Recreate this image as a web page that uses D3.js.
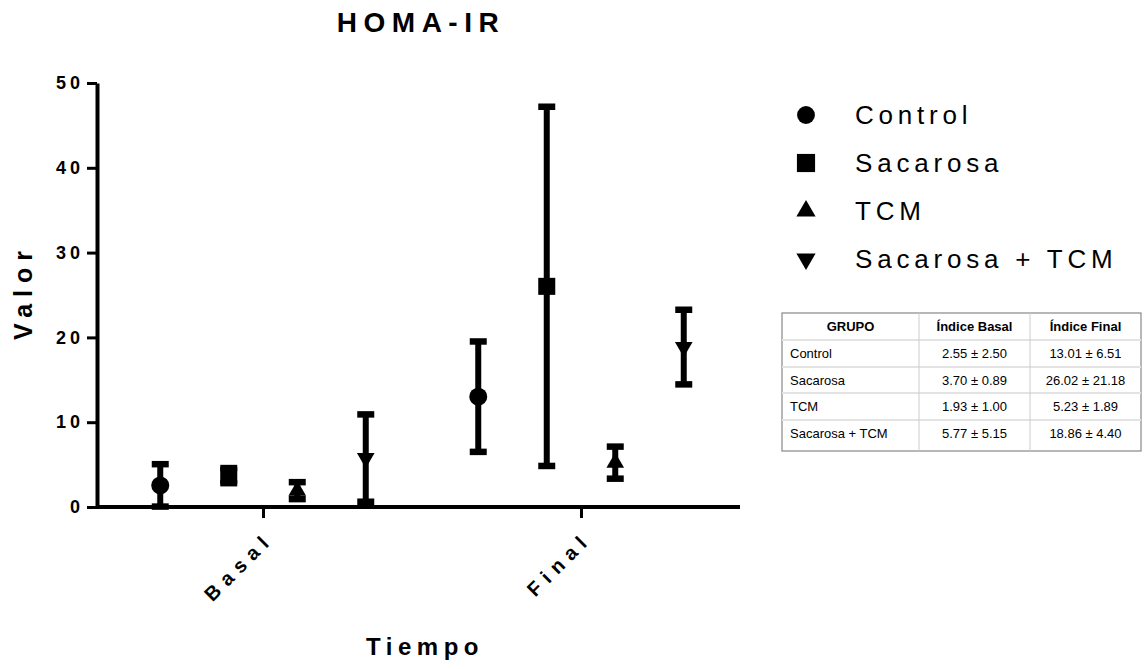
<!DOCTYPE html>
<html>
<head>
<meta charset="utf-8">
<script src="https://cdn.jsdelivr.net/npm/d3@7"></script>
<style>
  body { margin: 0; background: #fff; }
  svg { font-family: 'Liberation Sans', Arial, sans-serif; }
</style>
</head>
<body>
<div id="chart"></div>
<script>
const tiempos = ["Basal", "Final"];
const grupos = ["Control", "Sacarosa", "TCM", "Sacarosa + TCM"];
const mediaBasal = [2.55, 3.70, 1.93, 5.77];
const deBasal = [2.50, 0.89, 1.00, 5.15];
const mediaFinal = [13.01, 26.02, 5.23, 18.86];
const deFinal = [6.51, 21.18, 1.89, 4.40];
const yTickValues = [0, 10, 20, 30, 40, 50];
const tablaHeader = ["GRUPO", "Índice Basal", "Índice Final"];

const width = 1145, height = 669;
const margin = { top: 83, right: 405, bottom: 162, left: 97 };

const svg = d3.select("#chart").append("svg")
    .attr("width", width)
    .attr("height", height);

const rows = [];
grupos.forEach((g, i) => {
    rows.push({ tiempo: "Basal", grupo: g, idx: i, m: mediaBasal[i], sd: deBasal[i] });
    rows.push({ tiempo: "Final", grupo: g, idx: i, m: mediaFinal[i], sd: deFinal[i] });
});

const x = d3.scalePoint()
    .domain(tiempos)
    .range([margin.left + 7, width - margin.right])
    .padding(0.5);

const y = d3.scaleLinear()
    .domain([0, 50])
    .range([height - margin.bottom, margin.top]);

const dodge = 68.5;
const px = d => x(d.tiempo) + (d.idx - 1.5) * dodge;

// axes
const xAxis = g => g
    .attr("transform", `translate(0,${y(0)})`)
    .call(d3.axisBottom(x).tickSize(11).tickSizeOuter(0).tickFormat(""))
    .call(g => g.select(".domain").remove())
    .call(g => g.selectAll(".tick line").attr("stroke-width", 3))
    .call(g => g.append("line")
        .attr("x1", margin.left).attr("x2", width - margin.right)
        .attr("stroke", "#000").attr("stroke-width", 4));

const yAxis = g => g
    .attr("transform", `translate(${margin.left},0)`)
    .call(d3.axisLeft(y).tickValues(yTickValues).tickSize(10).tickSizeOuter(0).tickPadding(3))
    .call(g => g.select(".domain").attr("stroke-width", 4))
    .call(g => g.selectAll(".tick line").attr("stroke-width", 3))
    .call(g => g.selectAll(".tick text")
        .attr("font-size", 18)
        .attr("font-weight", "bold")
        .attr("letter-spacing", 4)
        .attr("font-family", "'Liberation Sans', Arial, sans-serif")
        .attr("fill", "#000"));

svg.append("g").call(xAxis);
svg.append("g").call(yAxis);

// rotated x labels
svg.append("g").selectAll("text")
    .data(tiempos)
    .join("text")
    .attr("transform", d => `translate(${x(d) + 12},${y(0) + 33}) rotate(-45)`)
    .attr("text-anchor", "end")
    .attr("font-size", 20)
    .attr("font-weight", "bold")
    .attr("letter-spacing", 7)
    .text(d => d);

// error bars
const capW = 8.5;
const eb = svg.append("g").selectAll("g")
    .data(rows)
    .join("g")
    .attr("stroke", "#000")
    .attr("stroke-width", 6);

eb.append("line")
    .attr("x1", px).attr("x2", px)
    .attr("y1", d => y(d.m - d.sd)).attr("y2", d => y(d.m + d.sd));
eb.append("line")
    .attr("x1", d => px(d) - capW).attr("x2", d => px(d) + capW)
    .attr("y1", d => y(d.m - d.sd)).attr("y2", d => y(d.m - d.sd))
    .attr("stroke-width", 6.5);
eb.append("line")
    .attr("x1", d => px(d) - capW).attr("x2", d => px(d) + capW)
    .attr("y1", d => y(d.m + d.sd)).attr("y2", d => y(d.m + d.sd))
    .attr("stroke-width", 6.5);

// markers
const symbolTypes = [d3.symbolCircle, d3.symbolSquare, d3.symbolTriangle, d3.symbolTriangle];
const symbolSizes = [254, 290, 135, 135];
const legendSizes = [250, 330, 160, 160];
const symbolRot = [0, 0, 0, 180];

svg.append("g").selectAll("path")
    .data(rows)
    .join("path")
    .attr("d", d => d3.symbol().type(symbolTypes[d.idx]).size(symbolSizes[d.idx])())
    .attr("transform", d => `translate(${px(d)},${y(d.m)}) rotate(${symbolRot[d.idx]})`)
    .attr("fill", "#000");

// titles
svg.append("text")
    .attr("x", 421).attr("y", 32)
    .attr("text-anchor", "middle")
    .attr("font-size", 28)
    .attr("font-weight", "bold")
    .attr("letter-spacing", 6.5)
    .text("HOMA-IR");

svg.append("text")
    .attr("transform", `translate(32,${(y(0) + y(50)) / 2 - 3}) rotate(-90)`)
    .attr("text-anchor", "middle")
    .attr("font-size", 25)
    .attr("font-weight", "bold")
    .attr("letter-spacing", 7)
    .text("Valor");

svg.append("text")
    .attr("x", 425).attr("y", 655)
    .attr("text-anchor", "middle")
    .attr("font-size", 24)
    .attr("font-weight", "bold")
    .attr("letter-spacing", 5.5)
    .text("Tiempo");

// legend
const legend = svg.append("g").selectAll("g")
    .data(grupos)
    .join("g")
    .attr("transform", (d, i) => `translate(806,${115 + i * 48})`);

legend.append("path")
    .attr("d", (d, i) => d3.symbol().type(symbolTypes[i]).size(legendSizes[i])())
    .attr("transform", (d, i) => `rotate(${symbolRot[i]})`)
    .attr("fill", "#000");

legend.append("text")
    .attr("x", 49).attr("dy", "0.36em")
    .attr("font-size", 26)
    .attr("letter-spacing", 4.8)
    .text(d => d);

// table
const fmt = d3.format(".2f");
const colX = [782, 919, 1030, 1141];
const rowY = [313, 340, 367, 393, 420, 451];
const tabla = svg.append("g").attr("font-size", 13);

tabla.append("rect")
    .attr("x", colX[0]).attr("y", rowY[0])
    .attr("width", colX[3] - colX[0]).attr("height", rowY[5] - rowY[0])
    .attr("fill", "#fff").attr("stroke", "#888").attr("stroke-width", 1.2);

tabla.selectAll("line.h")
    .data(rowY.slice(1, 5))
    .join("line")
    .attr("x1", colX[0]).attr("x2", colX[3])
    .attr("y1", d => d).attr("y2", d => d)
    .attr("stroke", "#e3e3e3").attr("stroke-width", 2);

tabla.selectAll("line.v")
    .data(colX.slice(1, 3))
    .join("line")
    .attr("x1", d => d).attr("x2", d => d)
    .attr("y1", rowY[0]).attr("y2", rowY[5])
    .attr("stroke", "#ccc").attr("stroke-width", 1);

tabla.selectAll("text.hd")
    .data(tablaHeader)
    .join("text")
    .attr("x", (d, i) => (colX[i] + colX[i + 1]) / 2)
    .attr("y", rowY[0] + 18)
    .attr("text-anchor", "middle")
    .attr("font-weight", "bold")
    .text(d => d);

grupos.forEach((g, i) => {
    const yy = rowY[i + 1] + 18;
    tabla.append("text").attr("x", colX[0] + 8).attr("y", yy).text(g);
    tabla.append("text").attr("x", (colX[1] + colX[2]) / 2).attr("y", yy)
        .attr("text-anchor", "middle").text(`${fmt(mediaBasal[i])} ± ${fmt(deBasal[i])}`);
    tabla.append("text").attr("x", (colX[2] + colX[3]) / 2).attr("y", yy)
        .attr("text-anchor", "middle").text(`${fmt(mediaFinal[i])} ± ${fmt(deFinal[i])}`);
});
</script>
</body>
</html>
